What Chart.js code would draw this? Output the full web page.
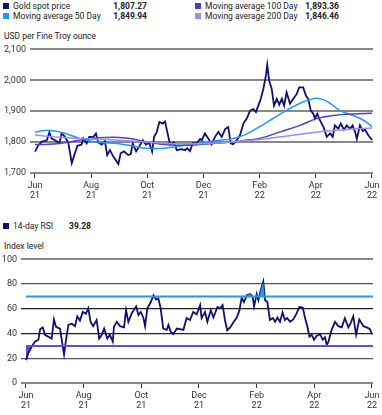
<!DOCTYPE html>
<html>
<head>
<meta charset="utf-8">
<script src="https://cdn.jsdelivr.net/npm/chart.js@4"></script>
<style>
body{margin:0;width:382px;height:415px;position:relative;overflow:hidden;background:#fff;font-family:Roboto,"Liberation Sans",Arial,sans-serif;color:#222}
.t{position:absolute;font-size:8.5px;line-height:10px;white-space:nowrap}
.b{font-weight:bold}
.sq{position:absolute;width:6px;height:6px}
canvas{position:absolute;left:0}
</style>
</head>
<body>
<div id="legendTop"></div>
<div class="t" style="left:4px;top:31px">USD per Fine Troy ounce</div>
<canvas id="priceChart" width="382" height="164" style="top:40px"></canvas>
<div id="legendRsi"></div>
<div class="t" style="left:4px;top:241px">Index level</div>
<canvas id="rsiChart" width="382" height="165" style="top:250px"></canvas>
<script>
// axis ticks
const tickPos = [0, 2, 4, 6, 8, 10, 12];
const tickMonths = ['Jun', 'Aug', 'Oct', 'Dec', 'Feb', 'Apr', 'Jun'];
const tickYears = ['21', '21', '21', '21', '22', '22', '22'];

// legend
const seriesNames = ['Gold spot price', 'Moving average 50 Day', 'Moving average 100 Day', 'Moving average 200 Day'];
const seriesLatest = ['1,807.27', '1,849.94', '1,893.36', '1,846.46'];
const rsiName = '14-day RSI';
const rsiLatest = '39.28';

// gold spot price (x in months since Jun 21)
const spotT = [0.00,0.12,0.24,0.42,0.51,0.59,0.77,0.87,0.95,1.07,1.19,1.31,1.42,1.51,1.66,1.72,1.84,1.93,2.08,2.17,2.25,2.38,2.49,2.57,2.67,2.79,2.97,3.05,3.17,3.32,3.41,3.48,3.60,3.71,3.84,3.95,4.07,4.17,4.24,4.33,4.43,4.55,4.63,4.71,4.81,4.95,5.05,5.22,5.34,5.42,5.52,5.62,5.76,5.88,5.94,6.05,6.17,6.29,6.41,6.53,6.65,6.77,6.88,6.97,7.06,7.18,7.30,7.42,7.54,7.66,7.77,7.87,7.95,8.04,8.13,8.22,8.27,8.34,8.43,8.51,8.61,8.70,8.79,8.87,8.96,9.08,9.20,9.32,9.41,9.55,9.65,9.73,9.82,9.91,9.97,10.05,10.15,10.27,10.39,10.51,10.60,10.68,10.80,10.89,11.00,11.10,11.22,11.31,11.40,11.46,11.57,11.67,11.75,11.87,12.00];
const spotV = [1769,1790,1801,1806,1831,1812,1803,1797,1828,1817,1796,1732,1764,1788,1792,1812,1796,1817,1817,1828,1799,1792,1803,1758,1774,1753,1729,1764,1770,1758,1761,1796,1770,1786,1806,1792,1797,1769,1817,1831,1865,1860,1867,1833,1792,1799,1774,1777,1774,1780,1771,1797,1797,1810,1806,1828,1812,1793,1817,1833,1817,1842,1849,1796,1793,1806,1822,1860,1876,1902,1907,1897,1918,1940,1972,2014,2050,1998,1972,1918,1940,1921,1940,1918,1961,1924,1940,1956,1977,1977,1950,1940,1902,1892,1876,1892,1870,1849,1817,1828,1817,1854,1843,1860,1840,1854,1843,1854,1833,1810,1854,1836,1840,1822,1807];

// moving averages
const ma50T = [0,0.45,1.0,1.6,2.2,3.0,3.6,4.0,4.6,5.0,5.5,6.0,6.6,7.0,7.5,8.0,8.5,9.0,9.5,9.9,10.1,10.4,10.86,11.2,11.46,11.75,12.0];
const ma50V = [1832,1838,1830,1812,1800,1795,1785,1780,1780,1785,1792,1798,1806,1810,1825,1850,1878,1905,1928,1940,1941,1932,1902,1890,1881,1868,1850];
const ma100T = [0,0.5,1.0,1.5,2.0,2.5,3.0,3.5,4.0,4.5,5.0,5.5,6.0,6.5,7.0,7.5,8.0,8.73,9.44,10.03,10.62,11.3,12.0];
const ma100V = [1792,1793,1797,1805,1812,1815,1815,1810,1800,1793,1790,1790,1793,1797,1800,1806,1812,1833,1854,1876,1886,1891,1893];
const ma200T = [0,1,2,3,4,5,6,7,7.5,8,9,10,11,12];
const ma200V = [1822,1815,1810,1806,1800,1795,1795,1800,1805,1808,1820,1832,1840,1846];

// 14-day RSI
const rsiT = [0.00,0.08,0.20,0.31,0.43,0.49,0.58,0.66,0.77,0.89,0.97,1.04,1.18,1.24,1.32,1.39,1.47,1.59,1.70,1.78,1.87,1.97,2.08,2.16,2.24,2.33,2.45,2.54,2.63,2.71,2.82,2.91,3.01,3.05,3.15,3.26,3.40,3.47,3.55,3.67,3.82,3.90,3.98,4.07,4.13,4.21,4.33,4.42,4.51,4.59,4.67,4.76,4.88,4.94,5.02,5.11,5.23,5.34,5.46,5.57,5.69,5.80,5.92,6.04,6.09,6.21,6.29,6.41,6.50,6.64,6.73,6.82,6.90,6.98,7.08,7.19,7.31,7.40,7.48,7.56,7.66,7.77,7.86,7.91,8.00,8.06,8.14,8.23,8.29,8.37,8.46,8.56,8.64,8.72,8.81,8.90,8.98,9.06,9.16,9.27,9.39,9.48,9.60,9.68,9.76,9.83,9.91,9.99,10.08,10.20,10.29,10.37,10.43,10.49,10.60,10.72,10.83,10.95,11.06,11.18,11.26,11.35,11.45,11.56,11.70,11.82,11.93,12.00];
const rsiV = [18.5,24,29.5,33.5,35,43.5,45,39,37.5,36,51.5,45.5,44,35,23,35,47,48,46,54,50.5,57.5,56,60.5,49.5,46,51,36,39,44,36,39,33.5,45.5,49.5,46,45,59,49.5,56.5,62,55,57.5,53,46,60.5,65.5,71,67.5,68.5,60.5,44,43,47,41.5,39.5,44,43.5,43,52.5,51,57.5,55.5,63,52.5,57.5,49.5,59,53,61.5,60.5,63,51,42.5,45,49,53,58.5,69,65.5,71,72,70,62,72,67,75,82,67,65.5,51,52.5,49.5,53,49.5,57,51,52.5,49.5,51.5,56.5,61.5,61,52.5,45.5,37.5,39,35,38,39.5,35,37,31,33.5,43,49.5,46,45,52.5,45,48.5,54,39,51.5,46,45,43.5,39.28];
const rsiLevels = [70, 30];

const colors = ['#10106e', '#1e9bf0', '#4b3fc9', '#9d8cf2'];
const zip = (t, v) => t.map((x, i) => ({x: x, y: v[i]}));
const font = {family: 'Roboto, "Liberation Sans", Arial, sans-serif', size: 9};

function legendItem(parent, left, top, color, name, value, valueRight) {
  parent.insertAdjacentHTML('beforeend',
    `<div class="sq" style="left:${left}px;top:${top + 2}px;background:${color}"></div>` +
    `<div class="t" style="left:${left + 10}px;top:${top}px">${name}</div>` +
    `<div class="t b" style="left:${valueRight - 60}px;width:60px;text-align:right;top:${top}px">${value}</div>`);
}

const lt = document.getElementById('legendTop');
legendItem(lt, 3, 1, colors[0], seriesNames[0], seriesLatest[0], 147);
legendItem(lt, 3, 11, colors[1], seriesNames[1], seriesLatest[1], 147);
legendItem(lt, 195, 1, colors[2], seriesNames[2], seriesLatest[2], 339);
legendItem(lt, 195, 11, colors[3], seriesNames[3], seriesLatest[3], 339);
legendItem(document.getElementById('legendRsi'), 3, 221, colors[0], rsiName, rsiLatest, 91);

function xScale(min, max, h) {
  return {
    type: 'linear', min: min, max: max,
    afterBuildTicks: s => { s.ticks = tickPos.map(v => ({value: v})); },
    afterFit: s => { s.height = h; },
    ticks: {autoSkip: false, maxRotation: 0, padding: 2, font: font, color: '#333',
      callback: v => { const i = tickPos.indexOf(v); return [tickMonths[i], tickYears[i]]; }},
    grid: {drawOnChartArea: false, tickLength: 5, color: '#333', lineWidth: 1},
    border: {display: false}
  };
}

new Chart(document.getElementById('priceChart').getContext('2d'), {
  type: 'line',
  data: {datasets: [
    {data: zip(ma200T, ma200V), borderColor: colors[3], borderWidth: 1.5, tension: 0.4, pointRadius: 0},
    {data: zip(ma100T, ma100V), borderColor: colors[2], borderWidth: 1.5, tension: 0.4, pointRadius: 0},
    {data: zip(ma50T, ma50V), borderColor: colors[1], borderWidth: 1.5, tension: 0.4, pointRadius: 0},
    {data: zip(spotT, spotV), borderColor: colors[0], borderWidth: 1.8, tension: 0, pointRadius: 0}
  ]},
  options: {
    responsive: false, animation: false,
    plugins: {legend: {display: false}, tooltip: {enabled: false}},
    layout: {padding: {top: 4, right: 9, left: 0, bottom: 0}},
    scales: {
      x: xScale(-0.178, 12.036, 31),
      y: {min: 1700, max: 2100,
        afterFit: s => { s.width = 30; },
        ticks: {stepSize: 100, padding: 4, font: font, color: '#333', callback: v => v.toLocaleString('en-US')},
        grid: {color: '#888', lineWidth: 2, drawTicks: false},
        border: {display: false}}
    }
  }
});

new Chart(document.getElementById('rsiChart').getContext('2d'), {
  type: 'line',
  data: {datasets: [
    {data: zip([0, 12.035], [rsiLevels[0], rsiLevels[0]]), borderColor: '#1e9bf0', borderWidth: 2, pointRadius: 0},
    {data: zip([0, 12.035], [rsiLevels[1], rsiLevels[1]]), borderColor: '#5b50d6', borderWidth: 2, pointRadius: 0},
    {data: zip(rsiT, rsiV), borderWidth: 0, pointRadius: 0,
      fill: {target: {value: rsiLevels[0]}, above: '#1e9bf0', below: 'rgba(0,0,0,0)'}},
    {data: zip(rsiT, rsiV), borderColor: colors[0], borderWidth: 1.8, pointRadius: 0,
      fill: {target: {value: rsiLevels[1]}, above: 'rgba(0,0,0,0)', below: '#5b50d6'}}
  ]},
  options: {
    responsive: false, animation: false,
    plugins: {legend: {display: false}, tooltip: {enabled: false}},
    layout: {padding: {top: 7, right: 9, left: 0, bottom: 0}},
    scales: {
      x: xScale(-0.173, 12.035, 32),
      y: {min: 0, max: 100,
        afterFit: s => { s.width = 21; },
        ticks: {stepSize: 20, padding: 4, font: font, color: '#333'},
        grid: {drawTicks: false,
          color: c => (c.tick.value === 0 || c.tick.value === 100) ? '#888' : (c.tick.value === 20 || c.tick.value === 80 ? '#555' : '#222'),
          lineWidth: c => (c.tick.value === 0 || c.tick.value === 100) ? 2 : 1.3},
        border: {display: false}}
    }
  }
});
</script>
</body>
</html>
